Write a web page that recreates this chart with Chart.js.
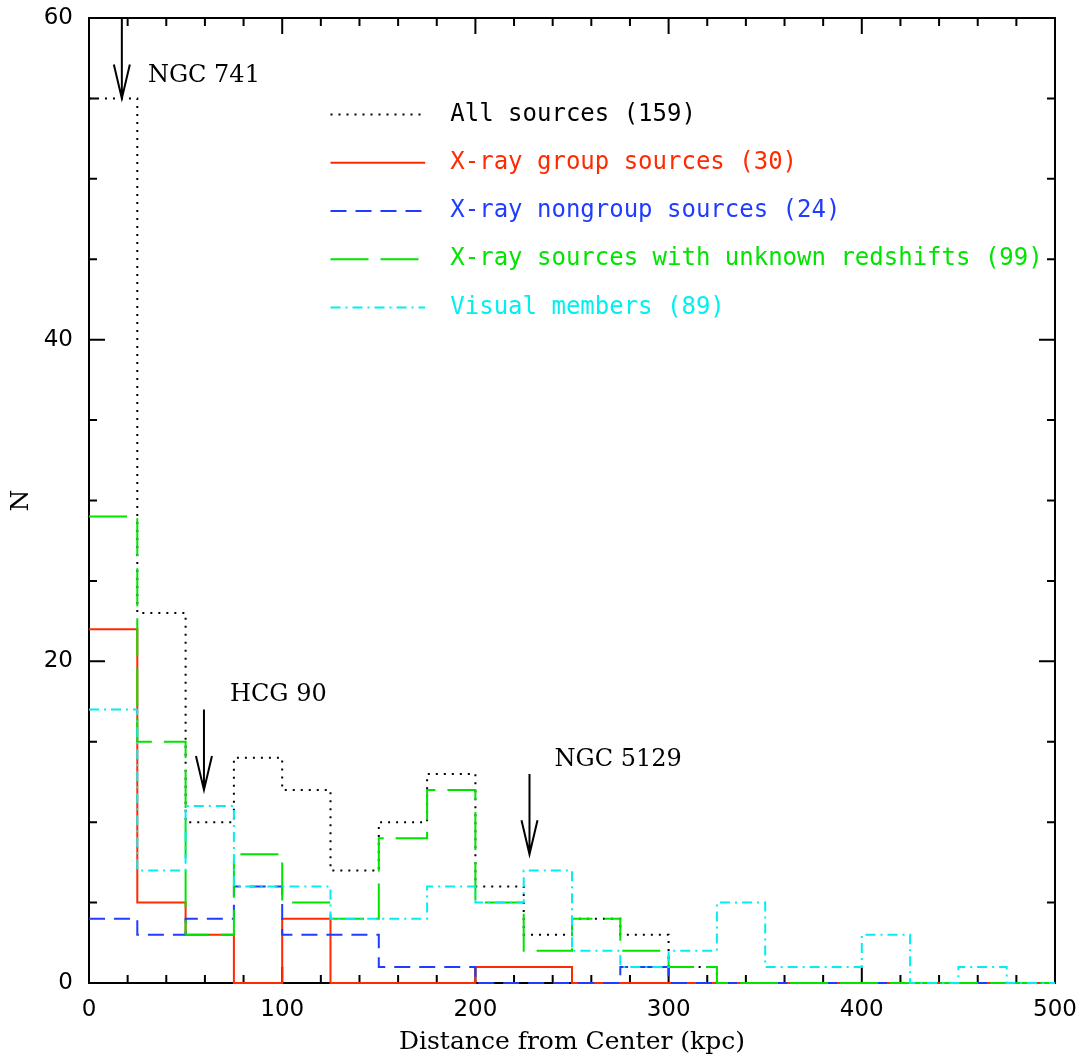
<!DOCTYPE html>
<html>
<head>
<meta charset="utf-8">
<title>Radial distribution of sources</title>
<script src="https://cdn.jsdelivr.net/npm/chart.js@4.4.0/dist/chart.umd.min.js"></script>
<style>
  html, body { margin: 0; padding: 0; background: #fff; }
  #wrap { width: 1092px; height: 1059px; }
</style>
</head>
<body>
<div id="wrap"><canvas id="hist" width="1092" height="1059"></canvas></div>
<script>
// Bin edges in kpc (25 kpc bins)
const binEdges = [0, 25, 50, 75, 100, 125, 150, 175, 200, 225, 250,
                  275, 300, 325, 350, 375, 400, 425, 450, 475, 500];

// Counts per bin
const allSources      = [55, 23, 10, 14, 12, 7, 10, 13, 6, 3, 4, 3, 1, 0, 0, 0, 0, 0, 0, 0];
const groupSources    = [22, 5, 3, 0, 4, 0, 0, 0, 1, 1, 0, 0, 0, 0, 0, 0, 0, 0, 0, 0];
const nongroupSources = [4, 3, 4, 6, 3, 3, 1, 1, 0, 0, 0, 1, 0, 0, 0, 0, 0, 0, 0, 0];
const unknownZSources = [29, 15, 3, 8, 5, 4, 9, 12, 5, 2, 4, 2, 1, 0, 0, 0, 0, 0, 0, 0];
const visualMembers   = [17, 7, 11, 6, 6, 4, 4, 6, 5, 7, 2, 1, 2, 5, 1, 1, 3, 0, 1, 0];

const seriesLabels = [
  'All sources (159)',
  'X-ray group sources (30)',
  'X-ray nongroup sources (24)',
  'X-ray sources with unknown redshifts (99)',
  'Visual members (89)'
];

// Groups: arrow x (kpc), arrow top and tip (N), name position
const groupNames = ['NGC 741', 'HCG 90', 'NGC 5129'];
const arrowX     = [17, 59.5, 228];
const arrowTop   = [60, 17, 13];
const arrowTip   = [55, 12, 8];
const nameX      = [30.5, 73, 241];
const nameY      = [56.4, 17.9, 13.9];

// Axis ranges and tick steps
const xRange = [0, 500];
const yRange = [0, 60];
const xMinorStep = 20, xMajorStep = 100;
const yMinorStep = 5, yMajorStep = 20;

const serifFont = '"DejaVu Serif", serif';
const monoFont = '"DejaVu Sans Mono", monospace';

/**
 * Turn bin counts into step-line points at the bin edges
 * @param {number[]} counts - counts per bin
 * @returns {Object[]} points for a stepped line
 */
function toSteps(counts) {
  return binEdges.map((x, i) => ({ x: x, y: counts[Math.min(i, counts.length - 1)] }));
}

const styles = [
  { color: '#000000', dash: [2, 6],        order: 5 },
  { color: '#ff2a00', dash: [],            order: 4 },
  { color: '#1f3cff', dash: [16, 9],       order: 3 },
  { color: '#00e400', dash: [38, 12],      order: 2 },
  { color: '#00f0f0', dash: [10, 5, 2, 5], order: 1 }
];
const seriesData = [allSources, groupSources, nongroupSources, unknownZSources, visualMembers];

// 'before' keeps each bin's height across the bin, then steps at the next edge
const datasets = seriesData.map((counts, i) => ({
  label: seriesLabels[i],
  data: toSteps(counts),
  stepped: 'before',
  borderColor: styles[i].color,
  borderDash: styles[i].dash,
  borderWidth: 2,
  pointRadius: 0,
  fill: false,
  order: styles[i].order,
  clip: 4
}));

// Frame and inward ticks on all four sides, drawn under the histograms
const framePlugin = {
  id: 'frame',
  beforeDatasetsDraw(chart) {
    const { ctx, chartArea: a, scales } = chart;
    ctx.save();
    ctx.strokeStyle = '#000';
    ctx.lineWidth = 2;
    ctx.setLineDash([]);
    ctx.strokeRect(a.left, a.top, a.right - a.left, a.bottom - a.top);

    ctx.beginPath();
    for (let v = xRange[0]; v <= xRange[1]; v += xMinorStep) {
      const px = scales.x.getPixelForValue(v);
      const len = v % xMajorStep === 0 ? 16 : 8;
      ctx.moveTo(px, a.bottom); ctx.lineTo(px, a.bottom - len);
      ctx.moveTo(px, a.top); ctx.lineTo(px, a.top + len);
    }
    for (let v = yRange[0]; v <= yRange[1]; v += yMinorStep) {
      const py = scales.y.getPixelForValue(v);
      const len = v % yMajorStep === 0 ? 16 : 8;
      ctx.moveTo(a.left, py); ctx.lineTo(a.left + len, py);
      ctx.moveTo(a.right, py); ctx.lineTo(a.right - len, py);
    }
    ctx.stroke();
    ctx.restore();
  }
};

// Group arrows, their names and the line-style key
const notesPlugin = {
  id: 'notes',
  afterDatasetsDraw(chart) {
    const { ctx, scales } = chart;
    const sx = scales.x, sy = scales.y;
    ctx.save();

    // arrows pointing at the groups
    ctx.strokeStyle = '#000';
    ctx.lineWidth = 2;
    ctx.setLineDash([]);
    groupNames.forEach((name, i) => {
      const x = sx.getPixelForValue(arrowX[i]);
      const y0 = sy.getPixelForValue(arrowTop[i]);
      const y1 = sy.getPixelForValue(arrowTip[i]);
      ctx.beginPath();
      ctx.moveTo(x, y0); ctx.lineTo(x, y1);
      ctx.moveTo(x - 8, y1 - 34); ctx.lineTo(x, y1); ctx.lineTo(x + 8, y1 - 34);
      ctx.stroke();

      ctx.fillStyle = '#000';
      ctx.font = '24px ' + serifFont;
      ctx.textAlign = 'left';
      ctx.textBaseline = 'middle';
      ctx.fillText(name, sx.getPixelForValue(nameX[i]), sy.getPixelForValue(nameY[i]));
    });

    // key: sample line and coloured text for each series
    const keyX0 = 125, keyX1 = 174, keyText = 187, keyTop = 54, keyStep = 3;
    chart.data.datasets.forEach((ds, i) => {
      const y = sy.getPixelForValue(keyTop - i * keyStep);
      ctx.strokeStyle = ds.borderColor;
      ctx.lineWidth = 2;
      ctx.setLineDash(ds.borderDash);
      ctx.beginPath();
      ctx.moveTo(sx.getPixelForValue(keyX0), y);
      ctx.lineTo(sx.getPixelForValue(keyX1), y);
      ctx.stroke();

      ctx.fillStyle = ds.borderColor;
      ctx.font = '24px ' + monoFont;
      ctx.textAlign = 'left';
      ctx.textBaseline = 'middle';
      ctx.fillText(ds.label, sx.getPixelForValue(keyText), y);
    });
    ctx.restore();
  }
};

// Fixed box sizes so the plot area sits at a known place
function fixWidth(scale) {
  scale.width = 89;
  scale.paddingTop = 0;
  scale.paddingBottom = 0;
}
function fixHeight(scale) {
  scale.height = 76;
  scale.paddingLeft = 0;
  scale.paddingRight = 0;
}

Chart.defaults.font.family = '"DejaVu Sans", sans-serif';
Chart.defaults.color = '#000';

new Chart(document.getElementById('hist'), {
  type: 'line',
  data: { datasets: datasets },
  options: {
    responsive: false,
    animation: false,
    devicePixelRatio: 1,
    layout: { padding: { top: 18, right: 37, left: 0, bottom: 0 } },
    plugins: {
      legend: { display: false },
      tooltip: { enabled: false }
    },
    scales: {
      x: {
        type: 'linear',
        min: xRange[0],
        max: xRange[1],
        afterFit: fixHeight,
        grid: { display: false, drawTicks: false },
        border: { display: false },
        ticks: {
          stepSize: xMinorStep,
          autoSkip: false,
          maxRotation: 0,
          padding: 13,
          font: { size: 23 },
          callback: (v) => (v % xMajorStep === 0 ? String(v) : '')
        },
        title: {
          display: true,
          text: 'Distance from Center (kpc)',
          font: { size: 25, family: serifFont },
          padding: { top: 0, bottom: 2 }
        }
      },
      y: {
        type: 'linear',
        min: yRange[0],
        max: yRange[1],
        afterFit: fixWidth,
        grid: { display: false, drawTicks: false },
        border: { display: false },
        ticks: {
          stepSize: yMinorStep,
          autoSkip: false,
          padding: 16,
          font: { size: 23 },
          callback: (v) => (v % yMajorStep === 0 ? String(v) : '')
        },
        title: {
          display: true,
          text: 'N',
          font: { size: 25, family: serifFont },
          padding: { top: 6, bottom: 0 }
        }
      }
    }
  },
  plugins: [framePlugin, notesPlugin]
});
</script>
</body>
</html>
